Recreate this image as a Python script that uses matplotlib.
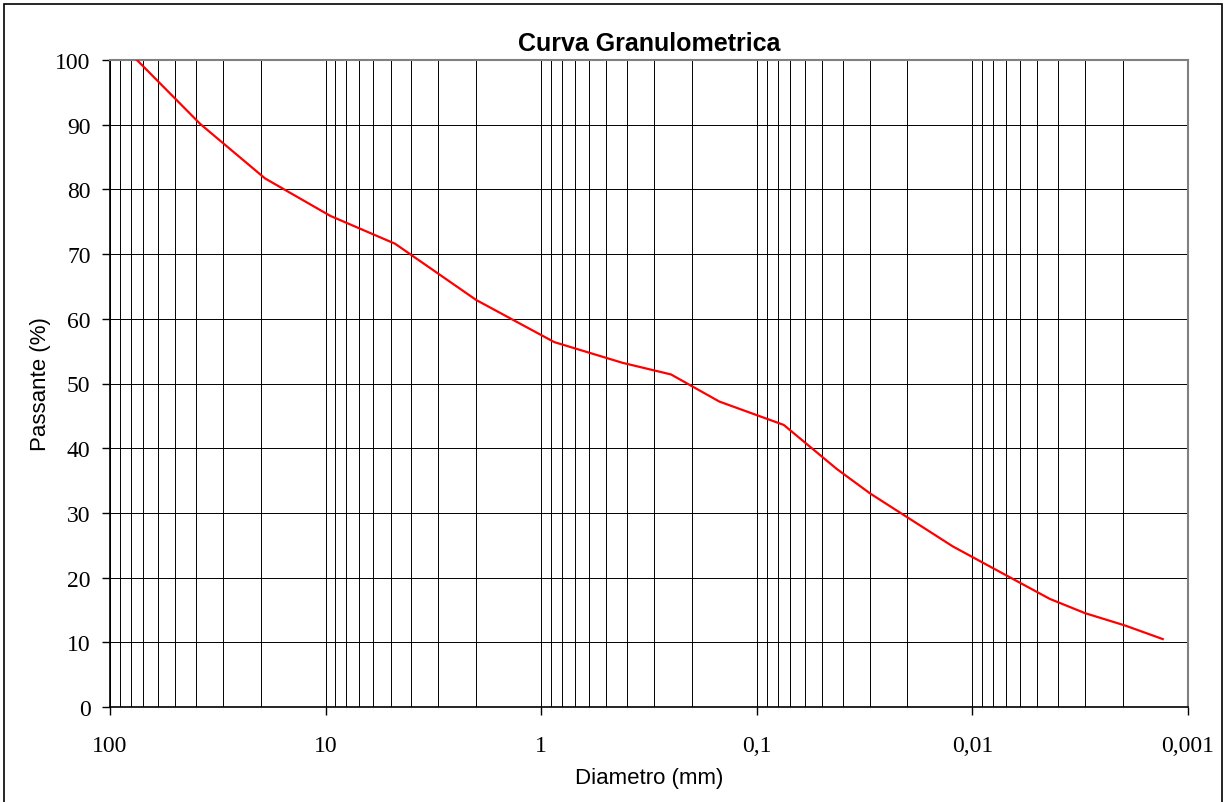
import matplotlib.pyplot as plt
from matplotlib.patches import Rectangle
from matplotlib.ticker import FixedLocator, LogLocator, NullFormatter

# dados da curva
diametro = [75, 38.1, 19.1, 9.5, 4.76, 2.0, 0.87, 0.42, 0.25, 0.149, 0.075,
            0.0426, 0.0298, 0.0123, 0.00437, 0.0030, 0.00196, 0.00131]
passante = [100, 90.1, 81.7, 75.9, 71.6, 62.9, 56.4, 53.2, 51.4, 47.2, 43.6,
            36.8, 33.0, 24.8, 16.7, 14.5, 12.6, 10.5]

x_ticks = [100, 10, 1, 0.1, 0.01, 0.001]
x_labels = ['100', '10', '1', '0,1', '0,01', '0,001']
y_ticks = list(range(0, 101, 10))

fig = plt.figure(figsize=(12.26, 8.03), dpi=100)
ax = fig.add_axes([110 / 1226, 1 - 708 / 803, 1078 / 1226, 647 / 803])

ax.plot(diametro, passante, color='#ff0000', linewidth=1.6, zorder=3)

ax.set_xscale('log')
ax.set_xlim(100, 0.001)
ax.set_ylim(0, 100)

ax.xaxis.set_major_locator(FixedLocator(x_ticks))
ax.set_xticklabels(x_labels)
ax.xaxis.set_minor_locator(LogLocator(base=10, subs=range(2, 10), numticks=20))
ax.xaxis.set_minor_formatter(NullFormatter())
ax.set_yticks(y_ticks)

ax.grid(True, which='major', axis='both', color='black', linewidth=0.7)
ax.grid(True, which='minor', axis='x', color='black', linewidth=0.7)

ax.tick_params(axis='x', which='major', direction='out', length=6, width=1,
               pad=14, labelsize=17)
ax.tick_params(axis='x', which='minor', length=0)
ax.tick_params(axis='y', direction='out', length=6, width=1, pad=8, labelsize=17)
for lbl in ax.get_xticklabels() + ax.get_yticklabels():
    lbl.set_fontfamily('Liberation Serif')

for side in ['top', 'right']:
    ax.spines[side].set_color('#808080')
    ax.spines[side].set_linewidth(1.5)
for side in ['left', 'bottom']:
    ax.spines[side].set_color('black')
    ax.spines[side].set_linewidth(1.2)

ax.set_title('Curva Granulometrica', fontsize=18, fontweight='bold',
             family='Liberation Sans', pad=7)
ax.set_xlabel('Diametro (mm)', fontsize=16, family='Liberation Sans', labelpad=8)
ax.set_ylabel('Passante (%)', fontsize=16, family='Liberation Sans', labelpad=3)

# moldura externa
fig.patches.append(Rectangle((0.003, -0.01), 0.994, 1.004, transform=fig.transFigure,
                             fill=False, edgecolor='black', linewidth=1.2))

fig.savefig('out.png', dpi=100)
